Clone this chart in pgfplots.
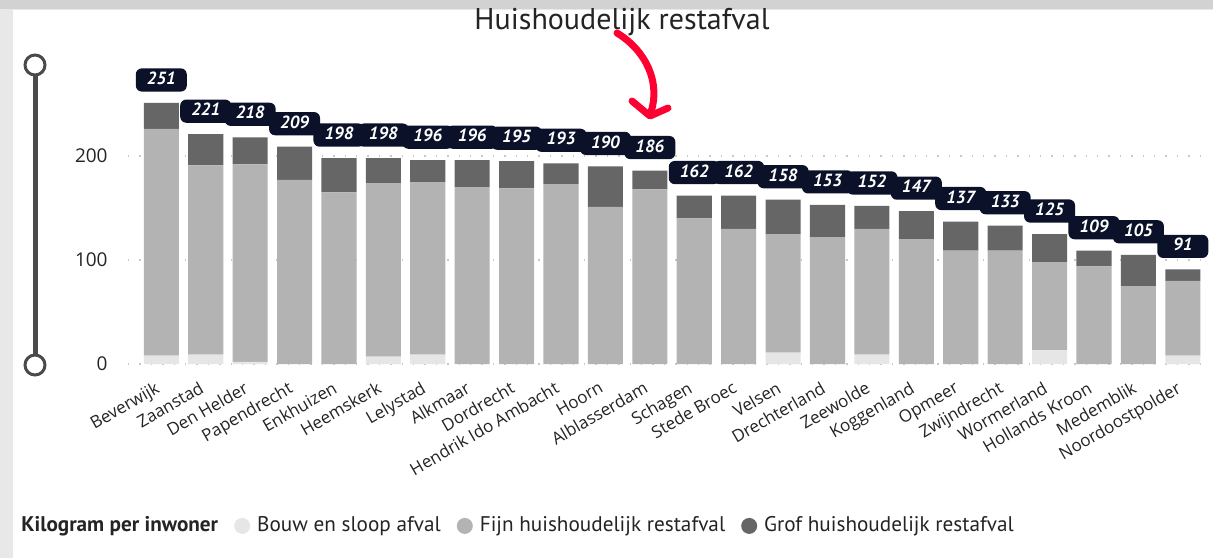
\documentclass[border=0pt]{standalone}
\usepackage{pgfplots}
\pgfplotsset{compat=1.18}
\usepackage{pgfplotstable}
\usepackage{fontspec}
\setmainfont{PT Sans}
\newfontfamily\osans{Open Sans}
\definecolor{bouw}{HTML}{E6E6E6}
\definecolor{fijn}{HTML}{B3B3B3}
\definecolor{grof}{HTML}{666666}
\definecolor{navy}{HTML}{0A1128}
\definecolor{gridc}{HTML}{C8C8C8}
\definecolor{labc}{HTML}{252423}
\definecolor{slider}{HTML}{4A4A4A}
\definecolor{arrowred}{HTML}{FF0033}
\definecolor{bgl}{HTML}{E8E8E8}
\definecolor{bgtop}{HTML}{D2D2D2}
\pgfplotsset{circlegend/.style={legend image code/.code={\fill[##1,draw=none] (4pt,0pt) circle (4pt);}}}
\pgfplotsset{frame/.style={at={(64pt,-182pt)}, anchor=south west,
  width=538.5pt, height=145.6pt, scale only axis,
  xmin=-0.75, xmax=23.5, ymin=0, ymax=280,
  /pgf/number format/assume math mode=true}}
\pgfplotstableread{
x bouw fijn grof total
0 8 218 25 251
1 9 182 30 221
2 2 190 26 218
3 0 177 32 209
4 0 165 33 198
5 7 167 24 198
6 9 166 21 196
7 0 170 26 196
8 0 169 26 195
9 0 173 20 193
10 0 151 39 190
11 0 168 18 186
12 0 140 22 162
13 0 130 32 162
14 11 114 33 158
15 0 122 31 153
16 9 121 22 152
17 0 120 27 147
18 0 109 28 137
19 0 109 24 133
20 13 85 27 125
21 0 94 15 109
22 0 75 30 105
23 8 72 11 91
}\data
\begin{document}
\begin{tikzpicture}
\begin{scope}[x=0.5pt,y=-0.5pt]
\useasboundingbox (0,0) rectangle (1213,558);
\fill[bgl] (0,0) rectangle (1213,558);
\fill[bgtop] (0,0) rectangle (1213,9);
\fill[white] (13,10) rectangle (1213,558);
\draw[slider, line width=2.5pt] (35,65) -- (35,365);
\draw[slider, line width=1.5pt, fill=white] (35,65) circle (10);
\draw[slider, line width=1.5pt, fill=white] (35,365) circle (10);
\node[font=\fontsize{15}{17}\selectfont, text=labc] at (622,22) {Huishoudelijk restafval};
\end{scope}
\begin{axis}[
  frame,
  ybar stacked, bar width=0.79,
  axis line style={draw=none}, tick style={draw=none},
  ytick={0,100,200}, ymajorgrids,
  grid style={gridc, line width=0.7pt, dash pattern=on 0.7pt off 5pt},
  xtick={0,...,23},
  xticklabels={Beverwijk, Zaanstad, Den Helder, Papendrecht, Enkhuizen, Heemskerk, Lelystad, Alkmaar, Dordrecht, Hendrik Ido Ambacht, Hoorn, Alblasserdam, Schagen, Stede Broec, Velsen, Drechterland, Zeewolde, Koggenland, Opmeer, Zwijndrecht, Wormerland, Hollands Kroon, Medemblik, Noordoostpolder},
  xticklabel style={font=\osans\fontsize{8.5}{10}\selectfont, text=labc, inner sep=1pt, xshift=-3.2pt, yshift=-6.7pt, rotate=30, anchor=north east},
  yticklabel style={font=\osans\fontsize{9.5}{11}\selectfont, text=labc, inner sep=0pt, xshift=-10pt},
  legend columns=-1,
  legend style={at={(-0.1058,-0.556)}, anchor=west, draw=none, fill=none,
    font=\fontsize{10.6}{12}\selectfont, text=labc, inner xsep=0pt,
    /tikz/every even column/.append style={column sep=6pt},
    /tikz/every odd column/.append style={column sep=1.5pt}},
]
\addlegendimage{empty legend}
\addlegendentry{\textbf{Kilogram per inwoner}}
\addplot[fill=bouw, draw=none, circlegend] table[x=x,y=bouw]{\data};
\addlegendentry{Bouw en sloop afval}
\addplot[fill=fijn, draw=none, circlegend] table[x=x,y=fijn]{\data};
\addlegendentry{Fijn huishoudelijk restafval}
\addplot[fill=grof, draw=none, circlegend] table[x=x,y=grof]{\data};
\addlegendentry{Grof huishoudelijk restafval}
\end{axis}
\begin{axis}[frame, hide axis]
\addplot[draw=none, mark=none, nodes near coords, point meta=explicit,
  every node near coord/.append style={anchor=south, yshift=5.5pt, fill=navy, text=white,
    rounded corners=3pt, minimum width=25.5pt, text height=6.6pt, text depth=2pt,
    inner xsep=1pt, inner ysep=1.5pt,
    font=\fontsize{8.8}{10}\selectfont\bfseries\itshape}]
  table[x=x,y=total,meta=total]{\data};
\end{axis}
\begin{scope}[x=0.5pt,y=-0.5pt]
\draw[arrowred, line width=3.5pt, line cap=round, line join=round] (617,33) .. controls (645,50) and (662,82) .. (650,115);
\draw[arrowred, line width=3.5pt, line cap=round, line join=round] (632,101) -- (650,116) -- (668,108);
\end{scope}
\end{tikzpicture}
\end{document}
